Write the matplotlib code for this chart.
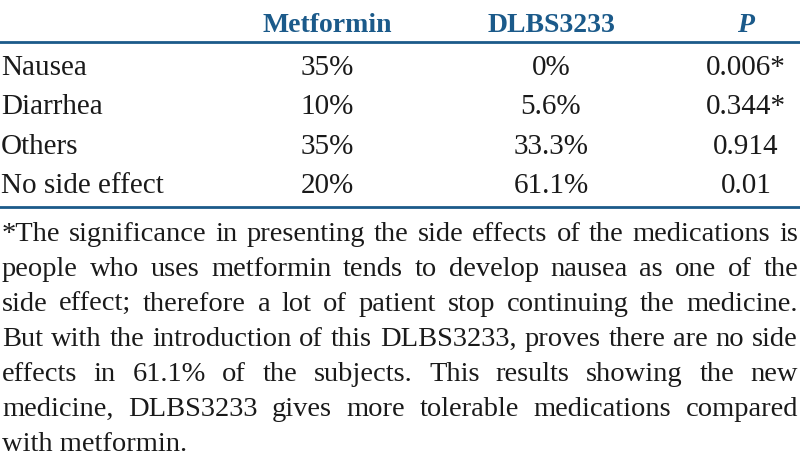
import matplotlib
matplotlib.use("Agg")
import matplotlib.pyplot as plt

# table content
headers = ["Metformin", "DLBS3233", "P"]
categories = ["Nausea", "Diarrhea", "Others", "No side effect"]
metformin = ["35%", "10%", "35%", "20%"]
dlbs3233 = ["0%", "5.6%", "33.3%", "61.1%"]
p_values = ["0.006*", "0.344*", "0.914", "0.01"]
footnote = [
    "*The significance in presenting the side effects of the medications is",
    "people who uses metformin tends to develop nausea as one of the",
    "side effect; therefore a lot of patient stop continuing the medicine.",
    "But with the introduction of this DLBS3233, proves there are no side",
    "effects in 61.1% of the subjects. This results showing the new",
    "medicine, DLBS3233 gives more tolerable medications compared",
    "with metformin.",
]

BLUE = "#1b5a8a"
INK = "#1a1a1a"
SERIF = ["Liberation Serif", "DejaVu Serif"]
W, H = 800, 460

fig = plt.figure(figsize=(W / 100, H / 100), dpi=100)
ax = fig.add_axes([0, 0, 1, 1])
ax.set_xlim(0, W); ax.set_ylim(H, 0)
ax.axis("off")

col_x = [327, 551, 746]
header_y = 32
row_y = [75, 114, 154, 193]

for x, h in zip(col_x, headers):
    ax.text(x, header_y, h, ha="center", va="baseline", fontsize=20,
            fontweight="bold", color=BLUE, family=SERIF,
            fontstyle="italic" if h == "P" else "normal")

ax.axhline(43, color=BLUE, lw=2)
ax.axhline(208, color=BLUE, lw=2)

for i, cat in enumerate(categories):
    y = row_y[i]
    ax.text(1, y, cat, ha="left", va="baseline", fontsize=21, family=SERIF, color=INK)
    for x, val in zip(col_x, [metformin[i], dlbs3233[i], p_values[i]]):
        ax.text(x, y, val, ha="center", va="baseline", fontsize=21, family=SERIF, color=INK)

# justified footnote
fn_size = 20.5
fn_y0, fn_dy = 241, 35.0
left, right = 2, 798
renderer = fig.canvas.get_renderer()
for li, line in enumerate(footnote):
    y = fn_y0 + li * fn_dy
    words = line.split(" ")
    if li == len(footnote) - 1:
        ax.text(left, y, line, ha="left", va="baseline", fontsize=fn_size, family=SERIF, color=INK)
        continue
    objs = [ax.text(0, y, w, ha="left", va="baseline", fontsize=fn_size, family=SERIF, color=INK)
            for w in words]
    widths = [o.get_window_extent(renderer).width for o in objs]
    gap = (right - left - sum(widths)) / (len(words) - 1)
    x = left
    for o, wd in zip(objs, widths):
        o.set_x(x)
        x += wd + gap

fig.savefig("out.png", dpi=100)
